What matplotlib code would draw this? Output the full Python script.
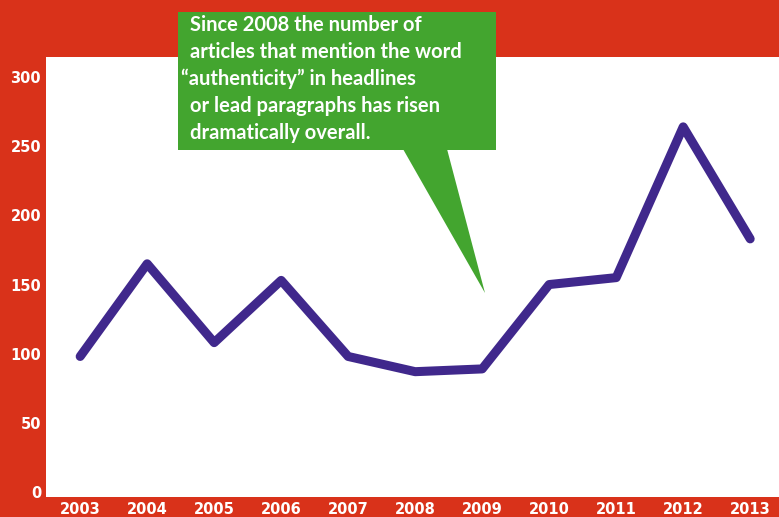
import matplotlib.pyplot as plt
from matplotlib.patches import Polygon, Rectangle

years = [2003, 2004, 2005, 2006, 2007, 2008, 2009, 2010, 2011, 2012, 2013]
articles = [98, 165, 108, 153, 98, 87, 89, 150, 155, 264, 183]
y_ticks = [0, 50, 100, 150, 200, 250, 300]
note_lines = ['Since 2008 the number of',
              'articles that mention the word',
              '\u201cauthenticity\u201d in headlines',
              'or lead paragraphs has risen',
              'dramatically overall.']

red = '#d9321a'
green = '#43a52f'
purple = '#40288c'

W, H = 779, 517
fig = plt.figure(figsize=(W / 100, H / 100), dpi=100, facecolor=red)


def fx(px):
    return px / W


def fy(py):
    # pixel from top -> figure fraction
    return 1 - py / H


# Plot area (white panel inside the red frame)
ax = fig.add_axes([fx(46), fy(497), fx(W - 46), (497 - 57) / H])
ax.set_facecolor('white')
ax.plot(years, articles, color=purple, linewidth=6.5,
        solid_capstyle='round', solid_joinstyle='round')
ax.set_xlim(2002.49, 2013.43)
ax.set_ylim(-3.6, 314.5)
ax.set_xticks(years)
ax.set_xticklabels([str(y) for y in years], fontweight='heavy')
ax.set_yticks(y_ticks)
ax.set_yticklabels([str(v) for v in y_ticks], fontweight='heavy')
ax.tick_params(axis='both', length=0, colors='white', labelsize=10.5)
ax.tick_params(axis='x', pad=3.5)
ax.tick_params(axis='y', pad=3.6)
for s in ax.spines.values():
    s.set_visible(False)

# Green call-out box with pointer
box = Rectangle((fx(178), fy(150)), fx(496 - 178), (150 - 12) / H,
                transform=fig.transFigure, facecolor=green, edgecolor='none', zorder=3)
fig.patches.append(box)
tip = Polygon([(fx(403), fy(149)), (fx(447), fy(149)), (fx(485), fy(293))],
              closed=True, transform=fig.transFigure, facecolor=green,
              edgecolor='none', zorder=3)
fig.patches.append(tip)

line_y = [25, 52, 79, 106, 133]
for txt, py in zip(note_lines, line_y):
    x0 = 181 if txt.startswith('\u201c') else 190
    fig.text(fx(x0), fy(py), txt, color='white', fontsize=14.5, fontweight='bold',
             family='Lato', ha='left', va='center', zorder=4)

fig.savefig('out.png', dpi=100, facecolor=red)
